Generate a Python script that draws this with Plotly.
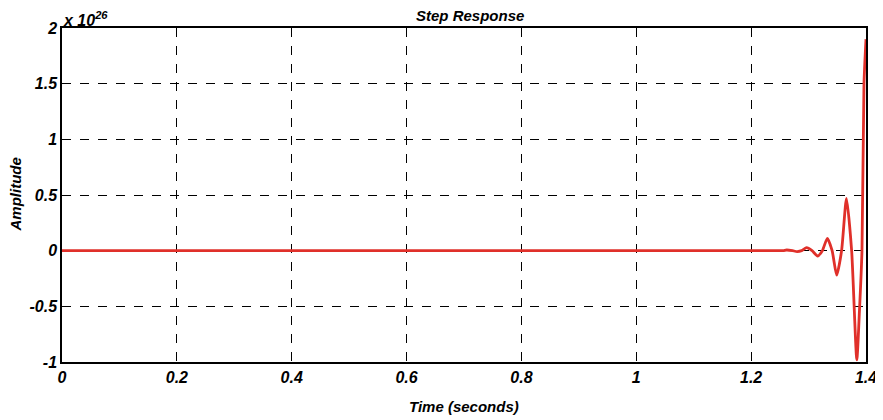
import plotly.graph_objects as go

# Step response samples (amplitude in units of 1e26)
time_s = [0.0, 1.25, 1.256, 1.262, 1.272, 1.280, 1.288, 1.2966, 1.306, 1.3157,
          1.324, 1.3327, 1.341, 1.349, 1.3575, 1.366, 1.375, 1.384, 1.3885,
          1.393, 1.3965, 1.4]
amplitude = [0.0, 0.0, 0.0, 0.006, 0.0, -0.008, 0.0, 0.027, 0.0, -0.048,
             0.0, 0.11, 0.0, -0.22, 0.0, 0.47, 0.0, -0.98, -0.55,
             0.0, 1.5, 1.9]

x_ticks = [0, 0.2, 0.4, 0.6, 0.8, 1.0, 1.2, 1.4]
x_tick_labels = ["0", "0.2", "0.4", "0.6", "0.8", "1", "1.2", "1.4"]
y_ticks = [-1, -0.5, 0, 0.5, 1, 1.5, 2]
y_tick_labels = ["-1", "-0.5", "0", "0.5", "1", "1.5", "2"]

FONT = "Liberation Sans, Arial, sans-serif"
def f(size):
    return dict(family=FONT, size=size, color="black", weight="bold", style="italic")

fig = go.Figure()
fig.add_trace(go.Scatter(
    x=time_s, y=amplitude, mode="lines",
    line=dict(color="#e0302a", width=2.8, shape="spline", smoothing=0.6),
    hoverinfo="skip", showlegend=False,
))

axis_common = dict(
    showline=True, linecolor="black", linewidth=1.5, mirror=True,
    showgrid=True, gridcolor="black", gridwidth=1, griddash="dash",
    zeroline=False, ticks="", tickfont=f(16), automargin=False,
    ticklabeloverflow="allow",
)

# page body has an 8px default margin; offset the figure layout accordingly
fig.update_layout(
    width=875, height=412,
    margin=dict(l=54, r=17, t=20, b=58),
    paper_bgcolor="white", plot_bgcolor="white",
    xaxis=dict(range=[0, 1.4], tickvals=x_ticks, ticktext=x_tick_labels, **axis_common),
    yaxis=dict(range=[-1, 2], tickvals=y_ticks, ticktext=y_tick_labels, **axis_common),
)

fig.add_annotation(xref="paper", yref="paper", x=0, y=1, xanchor="left", yanchor="bottom",
                   text="x 10<sup>26</sup>", showarrow=False, yshift=-3, xshift=-1, font=f(16))
fig.add_annotation(xref="paper", yref="paper", x=0.507, y=1, xanchor="center", yanchor="bottom",
                   text="Step Response", showarrow=False, yshift=2, font=f(15))
fig.add_annotation(xref="paper", yref="paper", x=0.5, y=0, xanchor="center", yanchor="top",
                   text="Time (seconds)", showarrow=False, yshift=-34, font=f(15))
fig.add_annotation(xref="paper", yref="paper", x=0, y=0.5, xanchor="right", yanchor="middle",
                   text="Amplitude", textangle=-90, showarrow=False, xshift=-37, font=f(15))

fig.write_html("out.html")
